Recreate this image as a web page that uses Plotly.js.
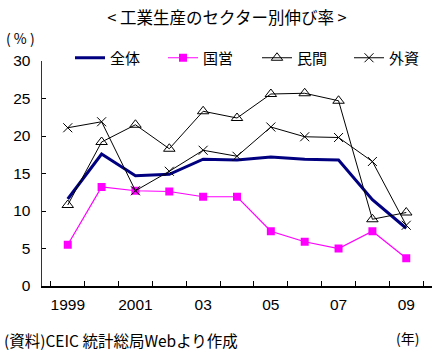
<!DOCTYPE html>
<html>
<head>
<meta charset="utf-8">
<script src="https://cdn.plot.ly/plotly-3.0.1.min.js"></script>
<style>
  html, body { margin: 0; padding: 0; background: #fff; }
  #chart { width: 433px; height: 353px; }
</style>
</head>
<body>
<div id="chart"></div>
<script>
// Years on the category axis, with labels shown only on odd years
const years = ["1999", "2000", "2001", "2002", "2003", "2004", "2005", "2006", "2007", "2008", "2009"];
const yearLabels = ["1999", "", "2001", "", "03", "", "05", "", "07", "", "09"];

// Growth rate of industrial production by sector (%)
const total    = [11.6, 17.6, 14.7, 14.9, 16.9, 16.8, 17.2, 16.9, 16.8, 11.5, 7.7];
const stateOwn = [5.5, 13.2, 12.7, 12.6, 11.9, 11.9, 7.3, 5.9, 5.0, 7.3, 3.7];
const privateS = [10.8, 19.2, 21.5, 18.3, 23.3, 22.4, 25.6, 25.7, 24.7, 8.9, 9.8];
const foreignS = [21.1, 21.9, 12.7, 15.3, 18.1, 17.3, 21.2, 19.9, 19.8, 16.6, 8.1];

const seriesNames = ["全体", "国営", "民間", "外資"];

const jp = '"Noto Sans CJK JP", "Liberation Sans", sans-serif';
const num = '"Liberation Sans", Arial, sans-serif';

const traces = [
  {
    x: years, y: total, name: seriesNames[0], type: 'scatter', mode: 'lines',
    line: { color: '#000080', width: 3 }, legend: 'legend'
  },
  {
    x: years, y: stateOwn, name: seriesNames[1], type: 'scatter', mode: 'lines+markers',
    line: { color: '#FF00FF', width: 1.2 },
    marker: { symbol: 'square', size: 8, color: '#FF00FF' }, legend: 'legend2'
  },
  {
    x: years, y: privateS, name: seriesNames[2], type: 'scatter', mode: 'lines+markers',
    line: { color: '#000000', width: 1 },
    marker: { symbol: 'triangle-up-open', size: 10, color: '#000000', line: { width: 1, color: '#000000' } },
    legend: 'legend3'
  },
  {
    x: years, y: foreignS, name: seriesNames[3], type: 'scatter', mode: 'lines+markers',
    line: { color: '#000000', width: 1 },
    marker: { symbol: 'x-thin-open', size: 9, color: '#000000', line: { width: 1, color: '#000000' } },
    legend: 'legend4'
  }
];

// One small legend per series, laid out in a row above the plot
function legendAt(px) {
  return {
    orientation: 'h', xref: 'container', yref: 'container',
    x: px / 433, xanchor: 'left', y: 1 - 58 / 353, yanchor: 'middle',
    font: { family: jp, size: 15, color: '#000' },
    bgcolor: 'rgba(0,0,0,0)', borderwidth: 0, itemwidth: 30
  };
}

// plot area: 42..432 px across, 61..286 px down
const px2x = px => (px - 42) / 390;
const py2y = py => (286 - py) / 225;

const layout = {
  width: 433, height: 353,
  margin: { l: 42, r: 1, t: 61, b: 67, pad: 0, autoexpand: false },
  paper_bgcolor: '#ffffff', plot_bgcolor: '#ffffff',
  showlegend: true,
  legend: legendAt(70),
  legend2: legendAt(163),
  legend3: legendAt(257),
  legend4: legendAt(349),
  title: {
    text: '< 工業生産のセクター別伸び率 >',
    font: { family: jp, size: 16.5, color: '#000' },
    x: 227 / 433, xanchor: 'center', xref: 'container',
    y: 1 - 18 / 353, yanchor: 'middle', yref: 'container'
  },
  xaxis: {
    type: 'category', tickmode: 'array', tickvals: years, ticktext: yearLabels,
    tickson: 'boundaries', ticks: 'inside', ticklen: 5, tickcolor: '#000', tickwidth: 1,
    tickangle: 0,
    showline: true, linecolor: '#000', linewidth: 1.5,
    showgrid: false, zeroline: false, fixedrange: true,
    tickfont: { family: num, size: 15.5, color: '#000' },
    ticklabelstandoff: 4
  },
  yaxis: {
    range: [0, 30], tickvals: [0, 5, 10, 15, 20, 25, 30],
    ticks: 'inside', ticklen: 4, tickcolor: '#000', tickwidth: 1,
    showline: true, linecolor: '#333', linewidth: 1.5,
    showgrid: false, zeroline: false, fixedrange: true,
    tickfont: { family: num, size: 15.5, color: '#000' },
    ticklabelstandoff: 7
  },
  annotations: [
    { text: '( % )', xref: 'paper', yref: 'paper', x: px2x(4), y: py2y(38),
      xanchor: 'left', yanchor: 'middle', showarrow: false,
      font: { family: jp, size: 14, color: '#000' } },
    { text: '(年)', xref: 'paper', yref: 'paper', x: px2x(407), y: py2y(338),
      xanchor: 'center', yanchor: 'middle', showarrow: false,
      font: { family: jp, size: 14, color: '#000' } },
    { text: '(資料)CEIC 統計総局Webより作成', xref: 'paper', yref: 'paper', x: px2x(2), y: py2y(353),
      xanchor: 'left', yanchor: 'bottom', showarrow: false,
      font: { family: jp, size: 15.5, color: '#000' } }
  ]
};

Plotly.newPlot('chart', traces, layout, { displayModeBar: false, staticPlot: true });
</script>
</body>
</html>
